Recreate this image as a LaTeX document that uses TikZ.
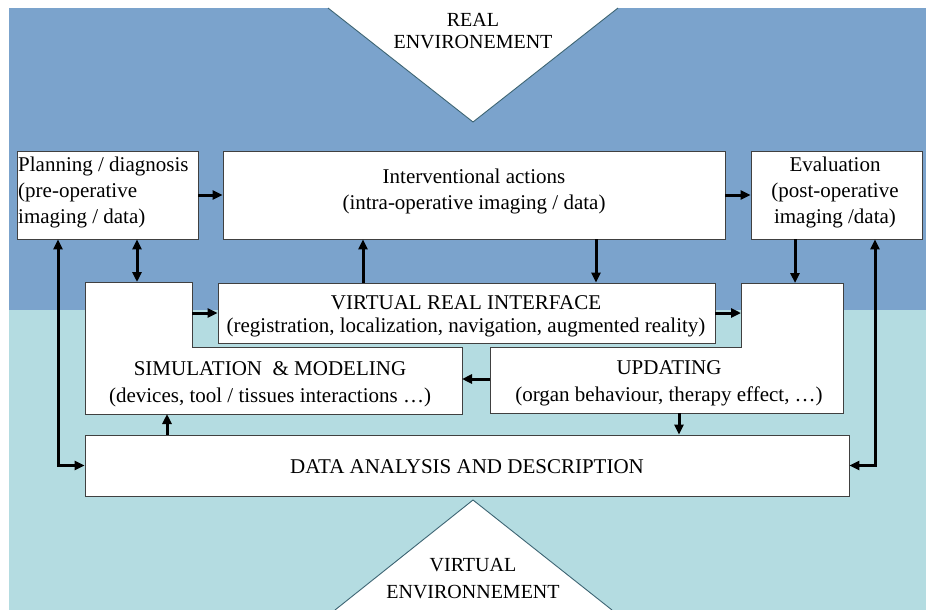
\documentclass[tikz,border=0pt]{standalone}
\usepackage{fontspec}
\setmainfont{Liberation Serif}
\usetikzlibrary{arrows.meta}
\definecolor{upperbg}{RGB}{123,163,204}
\definecolor{lowerbg}{RGB}{180,220,225}
\definecolor{tribord}{RGB}{60,100,115}
\tikzset{
  box/.style={draw=black!75, line width=0.9pt, fill=white, inner sep=0pt},
  lbl/.style={inner sep=0pt, font=\fontsize{21}{26}\selectfont, align=center},
  flow/.style={line width=3pt, draw=black, -{Triangle[length=10pt,width=9pt]}},
  bflow/.style={line width=3pt, draw=black, {Triangle[length=10pt,width=9pt]}-{Triangle[length=10pt,width=9pt]}},
  tri/.style={fill=white},
  triedge/.style={draw=tribord, line width=0.9pt}
}
\begin{document}
\begin{tikzpicture}[x=1pt,y=-1pt]
\useasboundingbox (0,0) rectangle (926,610);
% backgrounds
\fill[upperbg] (9,8) rectangle (926,310);
\fill[lowerbg] (9,310) rectangle (926,610);
% triangles
\fill[tri] (328,8) -- (473,122) -- (618,8) -- cycle;
\draw[triedge] (328,8) -- (473,122) -- (618,8);
\fill[tri] (335,610) -- (473,500) -- (612,610) -- cycle;
\draw[triedge] (335,610) -- (473,500) -- (612,610);
\node[lbl, font=\fontsize{20}{22}\selectfont] (realtxt) at (473,31) {REAL\\ENVIRONEMENT};
\node[lbl, font=\fontsize{20}{27}\selectfont] (virttxt) at (473,579) {VIRTUAL\\ENVIRONNEMENT};
% rectangular boxes
\node[box, minimum width=181pt, minimum height=88pt] (plan) at (107.5,195) {};
\node[box, minimum width=502pt, minimum height=88pt] (inter) at (474,195) {};
\node[box, minimum width=171pt, minimum height=88pt] (eval) at (836.5,195) {};
\node[box, minimum width=497pt, minimum height=60pt] (vri) at (466.5,313) {};
\node[box, minimum width=764pt, minimum height=61pt] (data) at (467,465.5) {};
% L-shaped boxes
\draw[box] (85,282) -- (192,282) -- (192,347) -- (462,347) -- (462,414) -- (85,414) -- cycle;
\draw[box] (741,283) -- (843,283) -- (843,413) -- (490,413) -- (490,347) -- (741,347) -- cycle;
\coordinate (simR) at (192,313);
\coordinate (simLowR) at (462,379);
\coordinate (simBot) at (167,414);
\coordinate (simTop) at (137,282);
\coordinate (updL) at (741,313);
\coordinate (updLowL) at (490,379);
\coordinate (updBot) at (679,413);
\coordinate (updTop) at (795,283);
% texts
\node[lbl, align=left, anchor=west] (plantxt) at (18,192.5) {Planning / diagnosis\\(pre-operative\\imaging / data)};
\node[lbl] (intertxt) at (474,191.5) {Interventional actions\\(intra-operative imaging / data)};
\node[lbl] (evaltxt) at (835,192.5) {Evaluation\\(post-operative\\imaging /data)};
\node[lbl, font=\fontsize{21}{23}\selectfont] (vritxt) at (466,316) {VIRTUAL REAL INTERFACE\\(registration, localization, navigation, augmented reality)};
\node[lbl, font=\fontsize{21}{27}\selectfont] (simtxt) at (270,384) {SIMULATION\ \ \&\ MODELING\\(devices, tool / tissues interactions …)};
\node[lbl, font=\fontsize{21}{27}\selectfont] (updtxt) at (669,383) {UPDATING\\(organ behaviour, therapy effect, …)};
\node[lbl] (datatxt) at (467,467) {DATA ANALYSIS AND DESCRIPTION};
% connectors
\draw[flow] (plan.east) -- (inter.west);
\draw[flow] (inter.east) -- (eval.west);
\draw[bflow] (plan.south -| simTop) -- (simTop);
\draw[flow] (simR) -- (simR -| vri.west);
\draw[flow] (vri.north -| 363,0) -- (inter.south -| 363,0);
\draw[flow] (inter.south -| 596,0) -- (vri.north -| 596,0);
\draw[flow] (vri.east) -- (updL);
\draw[flow] (eval.south -| updTop) -- (updTop);
\draw[flow] (updLowL) -- (simLowR);
\draw[flow] (data.north -| simBot) -- (simBot);
\draw[flow] (updBot) -- (data.north -| updBot);
\draw[bflow] (plan.south -| 58,0) |- (data.west);
\draw[bflow] (eval.south -| 875,0) |- (data.east);
\end{tikzpicture}
\end{document}
